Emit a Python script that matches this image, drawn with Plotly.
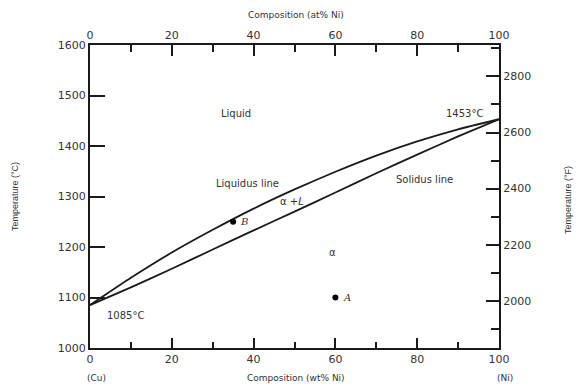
import plotly.graph_objects as go

# Composition (wt% Ni) and temperatures (°C)
comp = [0, 10, 20, 30, 40, 50, 60, 70, 80, 90, 100]
liquidus_T = [1085, 1139, 1189, 1234, 1276, 1314, 1349, 1381, 1409, 1433, 1453]
solidus_T = [1085, 1120, 1157, 1195, 1233, 1270, 1308, 1346, 1383, 1419, 1453]

points_name = ["B", "A"]
points_comp = [35, 60]
points_T = [1250, 1100]

x_ticks = [0, 20, 40, 60, 80, 100]
yC_ticks = [1000, 1100, 1200, 1300, 1400, 1500, 1600]
yF_ticks = [2000, 2200, 2400, 2600, 2800]

C_MIN, C_MAX = 1000, 1600
F_MIN, F_MAX = C_MIN * 9 / 5 + 32, C_MAX * 9 / 5 + 32

LINE = "#1a1a1a"
TXT = "#333333"
FONT = "DejaVu Sans"

fig = go.Figure()
fig.add_trace(go.Scatter(x=comp, y=liquidus_T, mode="lines",
                         line=dict(color=LINE, width=1.8, shape="spline", smoothing=0.5),
                         showlegend=False, hoverinfo="skip"))
fig.add_trace(go.Scatter(x=comp, y=solidus_T, mode="lines",
                         line=dict(color=LINE, width=1.8, shape="spline", smoothing=0.5),
                         showlegend=False, hoverinfo="skip"))
fig.add_trace(go.Scatter(x=points_comp, y=points_T, mode="markers", marker=dict(color="black", size=6),
                         showlegend=False, hoverinfo="skip"))
# dummy trace to activate secondary axes
fig.add_trace(go.Scatter(x=[None], y=[None], xaxis="x2", yaxis="y2", showlegend=False))

axis_common = dict(showline=True, linecolor=LINE, linewidth=2, ticks="inside", tickcolor=LINE,
                   tickwidth=1.5, showgrid=False, zeroline=False,
                   tickfont=dict(family=FONT, size=11, color=TXT))

fig.update_layout(
    width=576, height=385,
    margin=dict(l=90, r=77, t=45, b=37),
    paper_bgcolor="white", plot_bgcolor="white",
    xaxis=dict(range=[0, 100], tickvals=x_ticks, ticklen=10,
               minor=dict(dtick=10, tick0=0, ticklen=6, ticks="inside", tickcolor=LINE),
               **axis_common),
    xaxis2=dict(range=[0, 100], tickvals=x_ticks, ticklen=11, overlaying="x", side="top",
                anchor="y", minor=dict(dtick=10, tick0=0, ticklen=7, ticks="inside", tickcolor=LINE),
                **axis_common),
    yaxis=dict(range=[C_MIN, C_MAX], tickvals=yC_ticks, ticklen=15, **axis_common),
    yaxis2=dict(range=[F_MIN, F_MAX], tickvals=yF_ticks, ticklen=13, overlaying="y", side="right",
                anchor="x", minor=dict(dtick=100, tick0=2000, ticklen=8, ticks="inside", tickcolor=LINE),
                **axis_common),
)

def note(text, x, y, size=10, xanchor="center", italic=False):
    t = f"<i>{text}</i>" if italic else text
    fig.add_annotation(text=t, x=x, y=y, xref="x", yref="y", showarrow=False,
                       xanchor=xanchor, yanchor="middle",
                       font=dict(family="DejaVu Serif" if italic else FONT, size=size, color=TXT))

note("Liquid", 35.7, 1465)
note("1453°C", 96.5, 1465, xanchor="right")
note("Liquidus line", 38.4, 1325)
note("α +<i>L</i>", 49.4, 1291)
note("Solidus line", 81.9, 1333)
note("α", 59.2, 1190)
note("1085°C", 8.8, 1065)
for n, cx, cy in zip(points_name, points_comp, points_T):
    note(n, cx + 1.3, cy, xanchor="left", italic=True)

def pnote(px, py, text, size=9, angle=0, family=FONT):
    # px, py given in pixels of the 576x385 canvas, converted to paper coords
    x = (px - 90) / 409
    y = (348 - py) / 303
    fig.add_annotation(text=text, x=x, y=y, xref="paper", yref="paper", showarrow=False,
                       xanchor="center", yanchor="middle", textangle=angle,
                       font=dict(family=family, size=size, color=TXT))

pnote(296, 15, "Composition (at% Ni)")
pnote(296, 378, "Composition (wt% Ni)")
pnote(96, 378, "(Cu)")
pnote(505, 378, "(Ni)")
pnote(15, 197, "Temperature (°C)", angle=-90, family="Liberation Sans")
pnote(568, 200, "Temperature (°F)", angle=-90, family="Liberation Sans")

fig.write_html("out.html")
